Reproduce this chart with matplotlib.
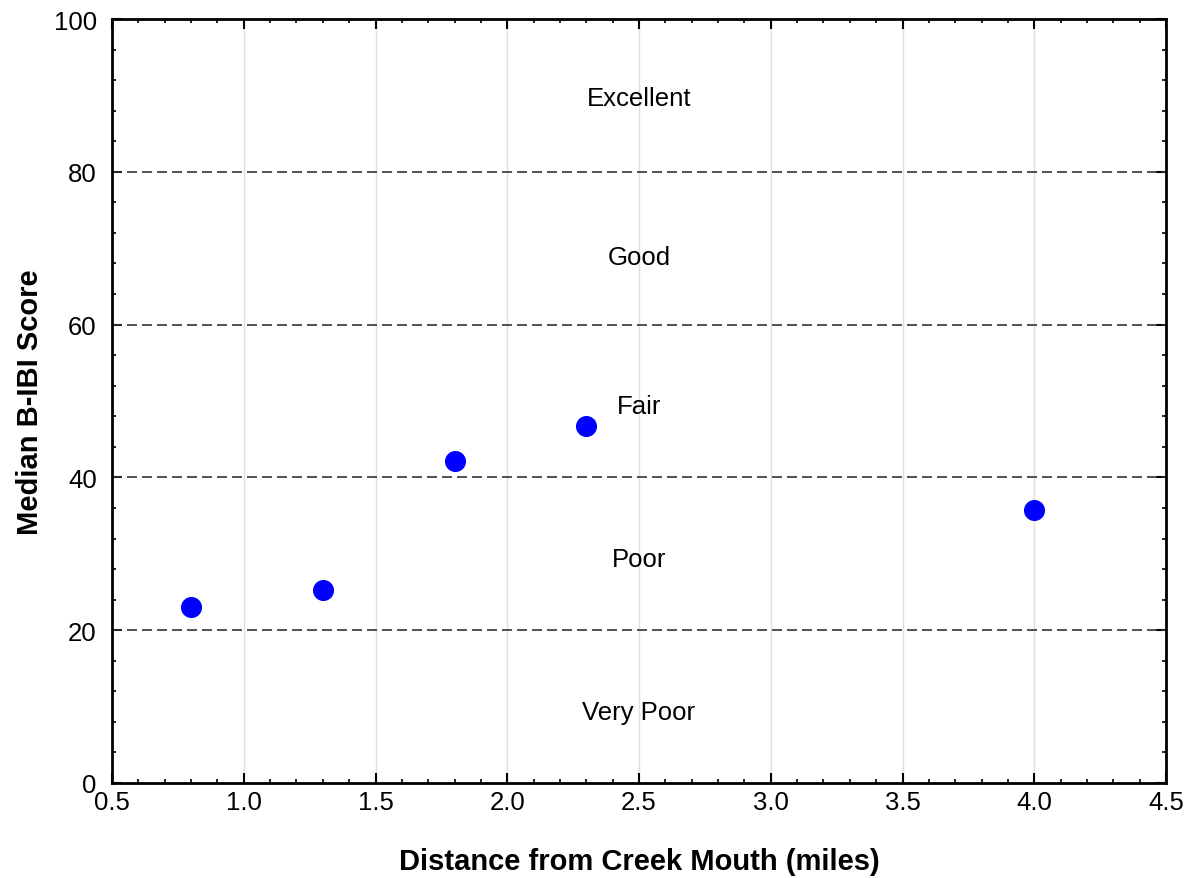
import matplotlib
matplotlib.use('Agg')
import matplotlib.pyplot as plt
import numpy as np
from matplotlib.ticker import MultipleLocator

plt.rcParams['font.family'] = ['Liberation Sans', 'DejaVu Sans']

distancia = [0.8, 1.3, 1.8, 2.3, 4.0]
ibi = [23.1, 25.2, 42.2, 46.7, 35.7]

limites = [20, 40, 60, 80]
classes = ['Very Poor', 'Poor', 'Fair', 'Good', 'Excellent']
classes_y = [9.3, 29.3, 49.3, 68.9, 89.7]

fig = plt.figure(figsize=(11.93, 8.79), dpi=100)
ax = fig.add_axes([112/1193, 1 - 784/879, 1054/1193, 764/879])

ax.set_xlim(0.5, 4.5)
ax.set_ylim(0, 100)
ax.xaxis.set_major_locator(MultipleLocator(0.5))
ax.xaxis.set_minor_locator(MultipleLocator(0.1))
ax.yaxis.set_major_locator(MultipleLocator(20))
ax.yaxis.set_minor_locator(MultipleLocator(4))
ax.xaxis.set_major_formatter(plt.FormatStrFormatter('%.1f'))

ax.grid(True, axis='x', color='#e0e0e0', linewidth=1)
ax.set_axisbelow(True)
for y in limites:
    ax.axhline(y, color='#333333', linestyle=(0, (6, 3)), linewidth=1.2)

for txt, y in zip(classes, classes_y):
    ax.text(2.5, y, txt, ha='center', va='center', fontsize=18.5)

ax.scatter(distancia, ibi, s=200, color='#0000ff', zorder=3)

ax.tick_params(which='both', direction='in', top=True, right=True, labelsize=18.5)
ax.tick_params(which='major', length=7, width=1.5)
ax.tick_params(which='minor', length=3, width=1.2)
ax.tick_params(axis='x', which='major', pad=5)
ax.tick_params(axis='y', which='major', pad=11)
for s in ax.spines.values():
    s.set_linewidth(2)

ax.set_xlabel('Distance from Creek Mouth (miles)', fontsize=21, fontweight='bold', labelpad=24)
ax.set_ylabel('Median B-IBI Score', fontsize=21, fontweight='bold', labelpad=7)

plt.savefig('out.png', dpi=100)
